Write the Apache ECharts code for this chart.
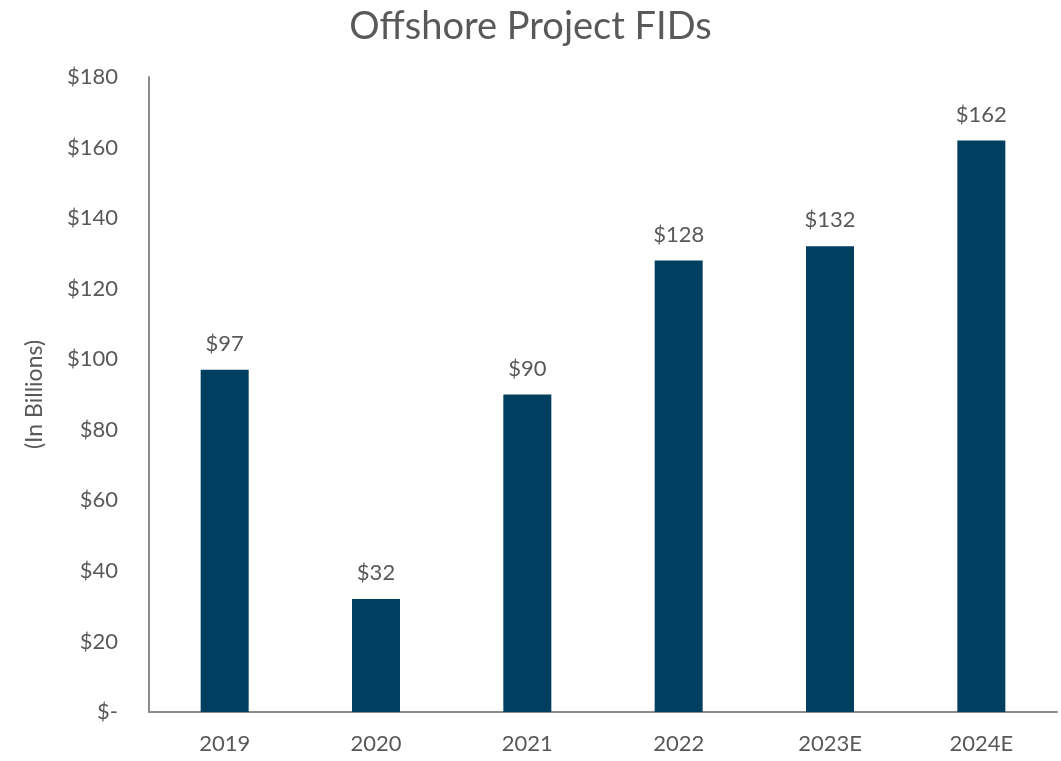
<!DOCTYPE html>
<html>
<head>
<meta charset="utf-8">
<script src="https://cdn.jsdelivr.net/npm/echarts@6/dist/echarts.min.js"></script>
<style>
  html, body { margin: 0; padding: 0; background: #fff; }
  #chart { width: 1061px; height: 761px; }
</style>
</head>
<body>
<div id="chart"></div>
<script>
const years = ['2019', '2020', '2021', '2022', '2023E', '2024E'];
const fidValues = [97, 32, 90, 128, 132, 162];

const textGrey = '#595959';
const barBlue = '#003F5F';
const fontName = 'Lato';

var myChart = echarts.init(document.getElementById('chart'));
var option = {
    title: {
        text: 'Offshore Project FIDs',
        left: 'center',
        top: 3,
        textStyle: { color: textGrey, fontSize: 38, fontWeight: 'normal', fontFamily: fontName }
    },
    grid: { left: 149, right: 4, top: 77, bottom: 49 },
    xAxis: {
        type: 'category',
        data: years,
        axisLine: { lineStyle: { color: '#8C8C8C', width: 2 } },
        axisTick: { show: false },
        axisLabel: { color: textGrey, fontSize: 22, fontFamily: fontName, margin: 21 }
    },
    yAxis: {
        type: 'value',
        min: 0,
        max: 180,
        interval: 20,
        name: '(In Billions)',
        nameLocation: 'middle',
        nameGap: 103,
        nameTextStyle: { color: textGrey, fontSize: 23, fontFamily: fontName },
        axisLine: { show: true, lineStyle: { color: '#8C8C8C', width: 2 } },
        axisTick: { show: false },
        splitLine: { show: false },
        axisLabel: {
            color: textGrey, fontSize: 22, fontFamily: fontName, margin: 31,
            formatter: (v) => v === 0 ? '$-' : '$' + v
        }
    },
    series: [{
        type: 'bar',
        data: fidValues,
        barWidth: 48,
        itemStyle: { color: barBlue },
        label: {
            show: true,
            position: 'top',
            distance: 15,
            color: textGrey,
            fontSize: 22,
            fontFamily: fontName,
            formatter: (p) => '$' + p.value
        }
    }]
};
myChart.setOption(option);
</script>
</body>
</html>
